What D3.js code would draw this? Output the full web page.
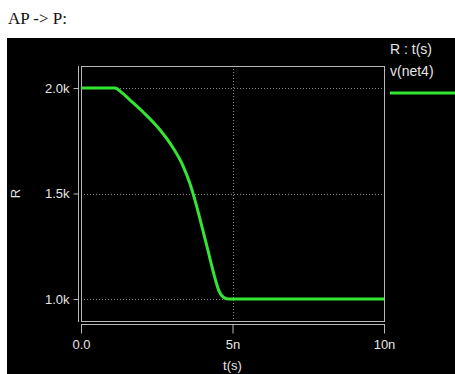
<!DOCTYPE html>
<html>
<head>
<meta charset="utf-8">
<script src="https://cdn.jsdelivr.net/npm/d3@7"></script>
<style>
  html, body { margin: 0; padding: 0; background: #fff; }
  svg { display: block; }
  .lbl { font-family: "Liberation Sans", Arial, sans-serif; font-size: 13px; fill: #e6e6e6; }
  .leg { font-size: 14px; }
</style>
</head>
<body>
<svg id="chart" width="455" height="374"></svg>
<script>
// Simulation trace: resistance R (kΩ) vs time (ns)
const timeNs = [0, 0.5, 1.12, 1.35, 1.62, 2.05, 2.61, 3.04, 3.37, 3.6, 3.8, 4.0, 4.2, 4.4, 4.55, 4.7, 4.85, 6, 8, 10];
const resK   = [2.0, 2.0, 2.0, 1.978, 1.943, 1.886, 1.801, 1.716, 1.63, 1.545, 1.448, 1.338, 1.224, 1.11, 1.04, 1.008, 1.0, 1.0, 1.0, 1.0];
const xTicks = [0, 5, 10];
const xTickLabels = ["0.0", "5n", "10n"];
const yTicks = [1.0, 1.5, 2.0];
const yTickLabels = ["1.0k", "1.5k", "2.0k"];
const traceName = "v(net4)";

const svg = d3.select("#chart");

// page heading
svg.append("text").attr("x", 8).attr("y", 24)
  .attr("font-family", "Liberation Serif, Times New Roman, serif")
  .attr("font-size", 17).attr("fill", "#111").text("AP -> P:");

// black plot panel
svg.append("rect").attr("x", 7).attr("y", 38).attr("width", 448).attr("height", 336).attr("fill", "#000");

const box = { left: 81, right: 384, top: 66, bottom: 321 };
const x = d3.scaleLinear().domain([0, 10]).range([box.left, box.right]);
const y = d3.scaleLinear().domain([2.0, 1.0]).range([88, 299]);

// dotted grid
const grid = svg.append("g").attr("stroke", "#8a8a8a").attr("stroke-width", 1).attr("stroke-dasharray", "1,2");
grid.selectAll("line.h").data(yTicks).join("line")
  .attr("x1", box.left).attr("x2", box.right)
  .attr("y1", d => Math.round(y(d)) + 0.5).attr("y2", d => Math.round(y(d)) + 0.5);
grid.append("line")
  .attr("x1", Math.round(x(5)) + 0.5).attr("x2", Math.round(x(5)) + 0.5)
  .attr("y1", box.top).attr("y2", box.bottom);

// plot frame
svg.append("rect").attr("x", box.left + 0.5).attr("y", box.top + 0.5)
  .attr("width", box.right - box.left).attr("height", box.bottom - box.top)
  .attr("fill", "none").attr("stroke", "#b8b8b8").attr("stroke-width", 1);

// y axis
const yAxis = d3.axisLeft(y).tickValues(yTicks).tickSize(5).tickPadding(4)
  .tickFormat((d, i) => yTickLabels[i]);
const gy = svg.append("g").attr("transform", "translate(78.5,0)").call(yAxis);
gy.select(".domain").remove();
gy.append("line").attr("x1", 0).attr("x2", 0).attr("y1", box.top).attr("y2", box.bottom + 1);
gy.selectAll("line").attr("stroke", "#b8b8b8");
gy.selectAll("text").attr("class", "lbl").attr("font-family", null).attr("font-size", null).attr("fill", null);

// x axis
const xAxis = d3.axisBottom(x).tickValues(xTicks).tickSize(9).tickPadding(6)
  .tickFormat((d, i) => xTickLabels[i]);
const gx = svg.append("g").attr("transform", "translate(0,324.5)").call(xAxis);
gx.select(".domain").remove();
gx.append("line").attr("x1", box.left).attr("x2", box.right + 1).attr("y1", 0).attr("y2", 0);
gx.selectAll("line").attr("stroke", "#b8b8b8");
gx.selectAll("text").attr("class", "lbl").attr("font-family", null).attr("font-size", null).attr("fill", null);

// axis titles
svg.append("text").attr("class", "lbl").attr("text-anchor", "middle")
  .attr("x", x(5)).attr("y", 370).text("t(s)");
svg.append("text").attr("class", "lbl").attr("text-anchor", "middle")
  .attr("transform", `translate(20,${y(1.5)}) rotate(-90)`).text("R");

// trace
const line = d3.line().x((d, i) => x(timeNs[i])).y(d => y(d)).curve(d3.curveMonotoneX);
svg.append("path").datum(resK).attr("d", line)
  .attr("fill", "none").attr("stroke", "#33e633").attr("stroke-width", 3).attr("stroke-linejoin", "round");

// legend
svg.append("text").attr("class", "lbl leg").attr("x", 390).attr("y", 54).text("R : t(s)");
svg.append("text").attr("class", "lbl leg").attr("x", 390).attr("y", 76).text(traceName);
svg.append("line").attr("x1", 390).attr("x2", 455).attr("y1", 93).attr("y2", 93)
  .attr("stroke", "#33e633").attr("stroke-width", 3);
</script>
</body>
</html>
